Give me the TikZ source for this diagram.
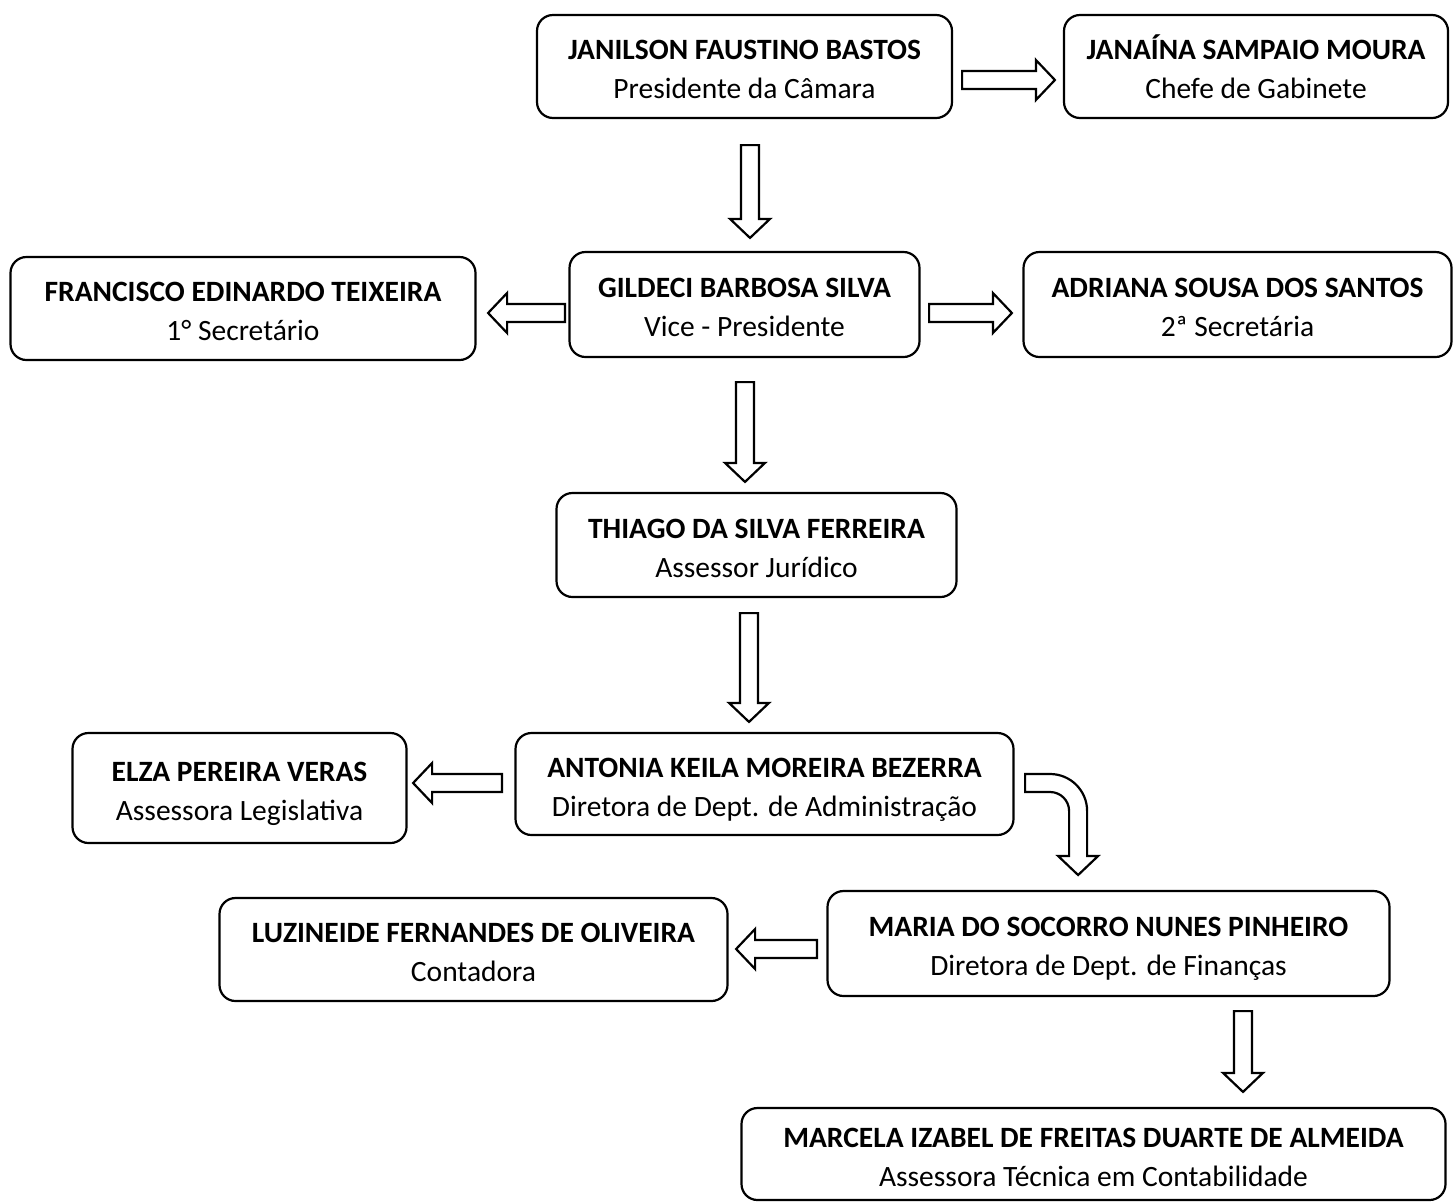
\documentclass[tikz,border=0pt]{standalone}
\usepackage{fontspec}
\setmainfont{Carlito}
\usetikzlibrary{positioning,calc}

\tikzset{
  person/.style={draw, line width=2.2pt, rounded corners=16pt, inner sep=0pt,
    align=center, font=\fontsize{29.5}{39}\selectfont},
  flow/.style={draw, fill=white, line width=2.2pt,
    to path={let \p1=(\tikztostart), \p2=(\tikztotarget),
      \n1={atan2((\y2)-(\y1),(\x2)-(\x1))},
      \p3=($(\p2)+({\n1+180}:19pt)$) in
      ($(\p1)+({\n1+90}:9pt)$) -- ($(\p3)+({\n1+90}:9pt)$) -- ($(\p3)+({\n1+90}:20pt)$)
      -- (\p2) -- ($(\p3)+({\n1-90}:20pt)$) -- ($(\p3)+({\n1-90}:9pt)$)
      -- ($(\p1)+({\n1-90}:9pt)$) -- cycle}},
}
\newcommand{\who}[2]{\rule{0pt}{37pt}\textbf{#1}\\#2\strut}

\begin{document}
\begin{tikzpicture}
[x=1pt, y=-1pt, on grid]
      \useasboundingbox (0,0) rectangle (1455,1203);

      \node[person, minimum width=415pt, minimum height=103pt] (pres) at (744.5,66.5) {\who{JANILSON FAUSTINO BASTOS}{Presidente da Câmara}};
      \node[person, minimum width=384pt, minimum height=103pt] (chief) [right=511.5pt of pres] {\who{JANAÍNA SAMPAIO MOURA}{Chefe de Gabinete}};
      \node[person, minimum width=350pt, minimum height=105pt] (vice) [below=238pt of pres] {\who{GILDECI BARBOSA SILVA}{Vice - Presidente}};
      \node[person, minimum width=465pt, minimum height=103pt] (first) [left=501.5pt of vice, yshift=-4pt] {\who{FRANCISCO EDINARDO TEIXEIRA}{1° Secretário}};
      \node[person, minimum width=428pt, minimum height=105pt] (second) [right=493pt of vice] {\who{ADRIANA SOUSA DOS SANTOS}{2ª Secretária}};
      \node[person, minimum width=400pt, minimum height=104pt] (legal) [below=240.5pt of vice, xshift=12pt] {\who{THIAGO DA SILVA FERREIRA}{Assessor Jurídico}};
      \node[person, minimum width=498pt, minimum height=102pt] (admin) [below=239pt of legal, xshift=8pt] {\who{ANTONIA KEILA MOREIRA BEZERRA}{Diretora de Dept. de Administração}};
      \node[person, minimum width=334pt, minimum height=110pt] (elza) [left=525pt of admin, yshift=-4pt] {\who{ELZA PEREIRA VERAS}{Assessora Legislativa}};
      \node[person, minimum width=562pt, minimum height=105pt] (maria) [below right=159.5pt and 344pt of admin] {\who{MARIA DO SOCORRO NUNES PINHEIRO}{Diretora de Dept. de Finanças}};
      \node[person, minimum width=508pt, minimum height=103pt] (contab) [left=635pt of maria, yshift=-6pt] {\who{LUZINEIDE FERNANDES DE OLIVEIRA}{Contadora}};
      \node[person, minimum width=704pt, minimum height=92pt] (marcela) [below=210.5pt of maria, xshift=-15pt] {\who{MARCELA IZABEL DE FREITAS DUARTE DE ALMEIDA}{Assessora Técnica em Contabilidade}};

      \path[flow]
      ($(pres.east)+(9,13.5)$) to ($(chief.west)+(-8,13.5)$)
      ($(pres.south)+(5.5,26)$) to ($(vice.north)+(5.5,-13)$)
      ($(vice.west)+(-3.5,8.5)$) to ($(first.east)+(11.5,4.5)$)
      ($(vice.east)+(8.5,8.5)$) to ($(second.west)+(-10.5,8.5)$)
      ($(vice.south)+(0.5,24)$) to ($(legal.north)+(-11.5,-10)$)
      ($(legal.south)+(-7.5,15)$) to ($(admin.north)+(-15.5,-10)$)
      ($(admin.west)+(-12.5,-1)$) to ($(elza.east)+(5.5,-5)$)
      ($(maria.west)+(-9.5,5.5)$) to ($(contab.east)+(7.5,-0.5)$)
      ($(maria.south)+(134.5,14)$) to ($(marcela.north)+(149.5,-15)$)
      ;

      % bent arrow towards finance
      \draw[fill=white, line width=2.2pt] ($(admin.east)+(10.5,-10)$) -- ++(25,0)
        arc[start angle=90, end angle=0, radius=37pt] -- ++(0,45) -- ++(11,0) -- ++(-20,19)
        -- ++(-20,-19) -- ++(11,0) -- ++(0,-45)
        arc[start angle=0, end angle=90, radius=19pt] -- ++(-25,0) -- cycle;

\end{tikzpicture}
\end{document}
